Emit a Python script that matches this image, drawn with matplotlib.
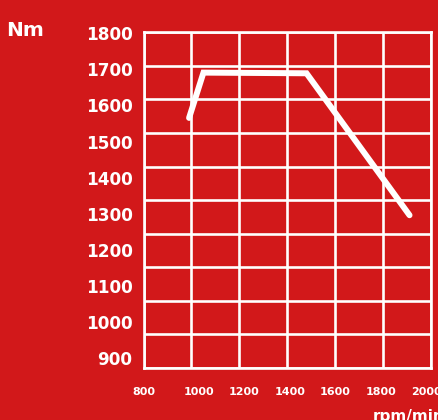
import numpy as np
import matplotlib
matplotlib.use('Agg')
import matplotlib.pyplot as plt

# torque curve
RPM = [990, 1050, 1480, 1910]
TORQUE = [1545, 1680, 1678, 1255]

X_LABELS = ['800', '1000', '1200', '1400', '1600', '1800', '2000']
Y_LABELS = ['1800', '1700', '1600', '1500', '1400', '1300', '1200', '1100', '1000', '900']

RED = '#d2181a'
WHITE = '#ffffff'

fig = plt.figure(figsize=(4.39, 4.2), dpi=100, facecolor=RED)
ax = fig.add_axes([0.327, 0.124, 0.655, 0.799], facecolor=RED)

ax.set_xlim(800, 2000)
ax.set_ylim(800, 1800)

# grid on minor ticks (keep the ones that fall on a label position too)
ax.xaxis.remove_overlapping_locs = False
ax.yaxis.remove_overlapping_locs = False
ax.set_xticks(np.arange(800, 2001, 200), minor=True)
ax.set_yticks(np.arange(800, 1801, 100), minor=True)
ax.grid(which='minor', color=WHITE, lw=1.9)
ax.tick_params(which='minor', length=0)

# labels sit a bit off the grid in the original artwork
ax.set_xticks([800, 1030, 1220, 1410, 1600, 1790, 1980], X_LABELS)
ax.set_yticks(np.linspace(1797, 830, 10), Y_LABELS)
ax.tick_params(which='major', length=0, colors=WHITE)
ax.tick_params(axis='y', pad=8)
ax.tick_params(axis='x', pad=14)
for t in ax.get_yticklabels():
    t.set_fontsize(12.2)
    t.set_fontweight('bold')
for t in ax.get_xticklabels():
    t.set_fontsize(8)
    t.set_fontweight('bold')

for s in ax.spines.values():
    s.set_color(WHITE)
    s.set_linewidth(1.9)

ax.plot(RPM, TORQUE, color=WHITE, lw=4.3, solid_capstyle='round',
        solid_joinstyle='miter', clip_on=False, zorder=3)

fig.text(25 / 439, 1 - 31 / 420, 'Nm', color=WHITE, fontsize=14.5,
         fontweight='bold', ha='center', va='center')
fig.text(373 / 439, 1 - 417 / 420, 'rpm/min', color=WHITE, fontsize=11,
         fontweight='bold', ha='left', va='center')

fig.savefig('out.png', dpi=100, facecolor=RED)
